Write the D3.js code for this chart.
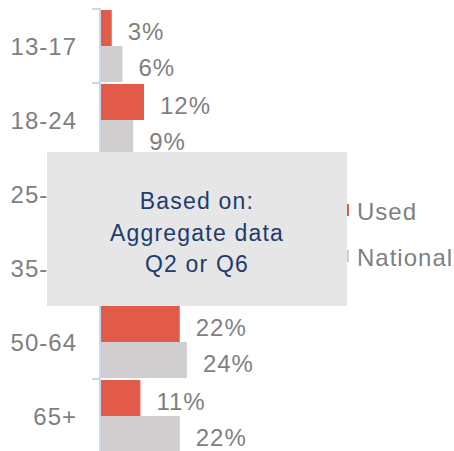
<html>
<head>
<script src="https://d3js.org/d3.v7.min.js"></script>
<style>
  body { margin: 0; background: #fff; }
  text { font-family: "Liberation Sans", Arial, sans-serif; }
</style>
</head>
<body>
<div id="chart"></div>
<script>
// age groups, top to bottom
var categories = ["13-17", "18-24", "25-34", "35-49", "50-64", "65+"];
var series = ["Used", "National"];
// percent values (25-34 and 35-49 sit under the note box, estimated)
var usedValues = [3, 12, 27, 25, 22, 11];
var nationalValues = [6, 9, 17, 22, 24, 22];
var seriesColors = ["#e15a4a", "#d0cece"];
// rows whose value labels are hidden by the note box
var coveredCats = ["25-34", "35-49"];
var noteLines = ["Based on:", "Aggregate data", "Q2 or Q6"];

var width = 454, height = 451;

var svg = d3.select("#chart").append("svg")
  .attr("width", width)
  .attr("height", height);

var rows = categories.map(function (c, i) {
  return { cat: c, values: [usedValues[i], nationalValues[i]] };
});

// scales
var x = d3.scaleLinear().domain([0, 30]).range([101, 208.4]);
var y0 = d3.scaleBand().domain(categories).range([8, 452]);
var y1 = d3.scaleBand().domain(series).range([2, y0.bandwidth()]);

// bars
var groups = svg.selectAll("g.row").data(rows).enter()
  .append("g")
  .attr("class", "row")
  .attr("transform", function (d) { return "translate(0," + y0(d.cat) + ")"; });

groups.selectAll("rect").data(function (d) { return d.values; }).enter()
  .append("rect")
  .attr("x", x(0))
  .attr("y", function (d, i) { return y1(series[i]); })
  .attr("width", function (d) { return x(d) - x(0); })
  .attr("height", y1.bandwidth())
  .attr("fill", function (d, i) { return seriesColors[i]; });

// value labels (only for rows not under the box)
groups.filter(function (d) { return coveredCats.indexOf(d.cat) < 0; })
  .selectAll("text.val").data(function (d) { return d.values; }).enter()
  .append("text")
  .attr("class", "val")
  .attr("x", function (d) { return x(d) + 16; })
  .attr("y", function (d, i) { return y1(series[i]) + y1.bandwidth() / 2 + 12; })
  .attr("font-size", 24)
  .attr("letter-spacing", 1)
  .attr("fill", "#7f7f7f")
  .text(function (d) { return d + "%"; });

// axis: category labels from d3.axisLeft, line + boundary ticks drawn separately
var axis = svg.append("g")
  .attr("transform", "translate(100,0)")
  .call(d3.axisLeft(y0).tickSize(0).tickPadding(23));
axis.select(".domain").remove();
axis.selectAll("text")
  .attr("font-size", 24)
  .attr("letter-spacing", 1)
  .attr("fill", "#7f7f7f")
  .attr("dy", "0.4em")
  .style("font-family", "'Liberation Sans', Arial, sans-serif");

svg.append("line")
  .attr("x1", 100).attr("x2", 100)
  .attr("y1", y0.range()[0]).attr("y2", y0.range()[1])
  .attr("stroke", "#c9d8ee")
  .attr("stroke-width", 2);

var bounds = categories.map(function (c) { return y0(c); }).concat([y0.range()[1]]);
svg.selectAll("line.tick").data(bounds).enter()
  .append("line")
  .attr("class", "tick")
  .attr("x1", 92).attr("x2", 100)
  .attr("y1", function (d) { return d + 1; })
  .attr("y2", function (d) { return d + 1; })
  .attr("stroke", "#c9d8ee")
  .attr("stroke-width", 2);

// legend
var legend = svg.selectAll("g.legend").data(series).enter()
  .append("g")
  .attr("class", "legend")
  .attr("transform", function (d, i) { return "translate(337," + (220 + i * 46) + ")"; });
legend.append("rect")
  .attr("x", 0).attr("y", -16)
  .attr("width", 12).attr("height", 12)
  .attr("fill", function (d, i) { return seriesColors[i]; });
legend.append("text")
  .attr("x", 20)
  .attr("y", 0)
  .attr("font-size", 24)
  .attr("letter-spacing", 1)
  .attr("fill", "#7f7f7f")
  .text(function (d) { return d; });

// note box on top
svg.append("rect")
  .attr("x", 47).attr("y", 152)
  .attr("width", 300).attr("height", 154)
  .attr("fill", "#e6e6e6");

svg.selectAll("text.note").data(noteLines).enter()
  .append("text")
  .attr("class", "note")
  .attr("x", 197)
  .attr("y", function (d, i) { return 209 + i * 31.5; })
  .attr("text-anchor", "middle")
  .attr("font-size", 23)
  .attr("letter-spacing", 1.2)
  .attr("fill", "#203c6e")
  .text(function (d) { return d; });
</script>
</body>
</html>
